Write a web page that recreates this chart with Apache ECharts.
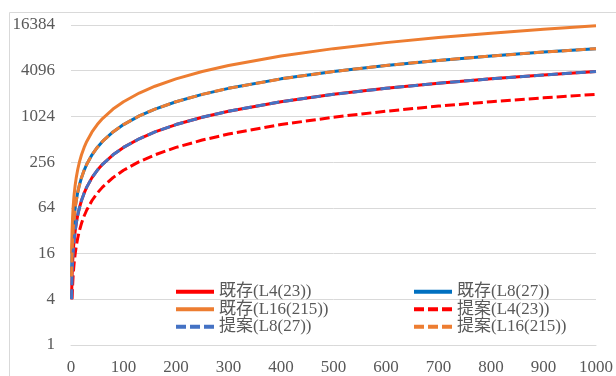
<!DOCTYPE html>
<html>
<head>
<meta charset="utf-8">
<style>
html,body{margin:0;padding:0;background:#fff;}
#chart{width:616px;height:376px;}
</style>
<script src="https://cdn.jsdelivr.net/npm/echarts@6/dist/echarts.min.js"></script>
</head>
<body>
<div id="chart"></div>
<script>
// x positions (sample points)
const xValues = [1, 2, 3, 4, 5, 6, 8, 10, 13, 16, 20, 25, 30, 40, 50, 60, 80, 100, 130, 160, 200, 250, 300, 400, 500, 600, 700, 800, 900, 1000];
// 既存 (existing)
const existingL4  = [4, 8, 12, 16, 20, 24, 32, 40, 52, 64, 80, 100, 120, 160, 200, 240, 320, 400, 520, 640, 800, 1000, 1200, 1600, 2000, 2400, 2800, 3200, 3600, 4000];
const existingL8  = [8, 16, 24, 32, 40, 48, 64, 80, 104, 128, 160, 200, 240, 320, 400, 480, 640, 800, 1040, 1280, 1600, 2000, 2400, 3200, 4000, 4800, 5600, 6400, 7200, 8000];
const existingL16 = [16, 32, 48, 64, 80, 96, 128, 160, 208, 256, 320, 400, 480, 640, 800, 960, 1280, 1600, 2080, 2560, 3200, 4000, 4800, 6400, 8000, 9600, 11200, 12800, 14400, 16000];
// 提案 (proposed)
const proposedL4  = [null, 4, 6, 8, 10, 12, 16, 20, 26, 32, 40, 50, 60, 80, 100, 120, 160, 200, 260, 320, 400, 500, 600, 800, 1000, 1200, 1400, 1600, 1800, 2000];
const proposedL8  = [4, 8, 12, 16, 20, 24, 32, 40, 52, 64, 80, 100, 120, 160, 200, 240, 320, 400, 520, 640, 800, 1000, 1200, 1600, 2000, 2400, 2800, 3200, 3600, 4000];
const proposedL16 = [8, 16, 24, 32, 40, 48, 64, 80, 104, 128, 160, 200, 240, 320, 400, 480, 640, 800, 1040, 1280, 1600, 2000, 2400, 3200, 4000, 4800, 5600, 6400, 7200, 8000];

const seriesNames = ['既存(L4(23))', '既存(L8(27))', '既存(L16(215))', '提案(L4(23))', '提案(L8(27))', '提案(L16(215))'];
const seriesData = [existingL4, existingL8, existingL16, proposedL4, proposedL8, proposedL16];
const seriesColors = ['#FF0000', '#0070C0', '#ED7D31', '#FF0000', '#4472C4', '#ED7D31'];
const seriesDashed = [false, false, false, true, true, true];

const FONT = '"Liberation Serif", "Noto Sans CJK JP", serif';
const TEXT = '#595959';

const chart = echarts.init(document.getElementById('chart'), null, {renderer: 'canvas'});

const series = seriesNames.map((name, i) => ({
  name: name,
  type: 'line',
  data: xValues.map((x, k) => [x, seriesData[i][k]]).filter(p => p[1] != null),
  showSymbol: false,
  symbol: 'none',
  smooth: false,
  animation: false,
  lineStyle: {color: seriesColors[i], width: 3, type: seriesDashed[i] ? [10, 4] : 'solid', cap: 'butt'},
  itemStyle: {color: seriesColors[i]}
}));

const legendCommon = {
  orient: 'vertical',
  itemWidth: 38,
  itemHeight: 14,
  itemGap: 0,
  itemStyle: {opacity: 0},
  lineStyle: {width: 4},
  textStyle: {color: TEXT, fontFamily: FONT, fontSize: 17, lineHeight: 17.5},
  padding: 0,
  selectedMode: false
};

chart.setOption({
  backgroundColor: '#ffffff',
  animation: false,
  grid: {left: 71, right: 17, top: 25, bottom: 26, containLabel: false},
  xAxis: {
    type: 'value',
    min: 0, max: 1000, interval: 100,
    axisLine: {show: true, lineStyle: {color: '#D9D9D9', width: 1}},
    axisTick: {show: false},
    splitLine: {show: false},
    axisLabel: {color: TEXT, fontFamily: FONT, fontSize: 17, margin: 14, formatter: v => String(v)}
  },
  yAxis: {
    type: 'log',
    logBase: 4,
    min: 1, max: 16384,
    axisLine: {show: false},
    axisTick: {show: false},
    splitLine: {show: true, lineStyle: {color: '#D9D9D9', width: 1}},
    minorSplitLine: {show: false},
    axisLabel: {color: TEXT, fontFamily: FONT, fontSize: 17, margin: 16, formatter: v => String(Math.round(v))}
  },
  legend: [
    Object.assign({}, legendCommon, {left: 174, top: 283, data: [seriesNames[0], seriesNames[2], seriesNames[4]]}),
    Object.assign({}, legendCommon, {left: 412, top: 283, data: [seriesNames[1], seriesNames[3], seriesNames[5]]})
  ],
  graphic: [{
    type: 'rect',
    shape: {x: 9.5, y: 12.5, width: 640, height: 400},
    style: {fill: 'none', stroke: '#D9D9D9', lineWidth: 1},
    silent: true, z: -1
  }],
  series: series
});
</script>
</body>
</html>
